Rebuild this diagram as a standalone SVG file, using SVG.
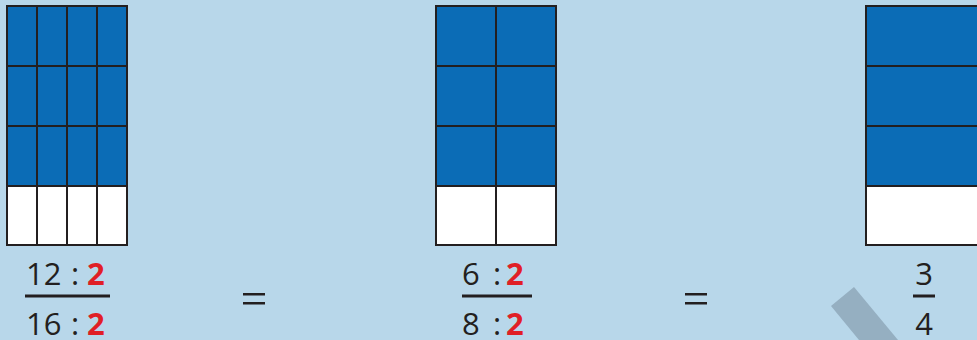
<svg xmlns="http://www.w3.org/2000/svg" width="977" height="340" viewBox="0 0 977 340">
<style>
.bg{fill:#b8d7ea}
.blue{fill:#0b6cb6}
.white{fill:#ffffff}
.grid{fill:none;stroke:#231f20;stroke-width:2}
.num{font-family:"Open Sans","Liberation Sans",sans-serif;font-size:31px;fill:#231f20}
.red{font-family:"Open Sans","Liberation Sans",sans-serif;font-size:31px;font-weight:bold;fill:#e01f26}
.bar{fill:#231f20}
</style>
<rect class="bg" x="0" y="0" width="977" height="340"/>
<polygon id="band" points="831,306 854,287 898,340 859,340" fill="#95afc1"/>
<g id="grid16">
<rect class="blue" x="7" y="6" width="120" height="180"/>
<rect class="white" x="7" y="186" width="120" height="59"/>
<path class="grid" d="M7,6H127V245H7Z M37,6V245 M67,6V245 M97,6V245 M7,66H127 M7,126H127 M7,186H127"/>
</g>
<g id="grid8">
<rect class="blue" x="436" y="6" width="120" height="180"/>
<rect class="white" x="436" y="186" width="120" height="59"/>
<path class="grid" d="M436,6H556V245H436Z M496,6V245 M436,66H556 M436,126H556 M436,186H556"/>
</g>
<g id="grid4">
<rect class="blue" x="866" y="6" width="120" height="180"/>
<rect class="white" x="866" y="186" width="120" height="59"/>
<path class="grid" d="M866,6H986V245H866Z M866,66H986 M866,126H986 M866,186H986"/>
</g>
<g id="frac1">
<text class="num" x="26" y="285">12</text>
<text class="num" x="75" y="285" text-anchor="middle">:</text>
<text class="red" x="87" y="285">2</text>
<rect class="bar" x="25" y="294.5" width="85" height="3"/>
<text class="num" x="26" y="335">16</text>
<text class="num" x="75" y="335" text-anchor="middle">:</text>
<text class="red" x="87" y="335">2</text>
</g>
<g id="eq1">
<rect class="bar" x="243" y="293" width="22" height="2.5"/>
<rect class="bar" x="243" y="302" width="22" height="2.5"/>
</g>
<g id="frac2">
<text class="num" x="462" y="285">6</text>
<text class="num" x="497" y="285" text-anchor="middle">:</text>
<text class="red" x="506" y="285">2</text>
<rect class="bar" x="462" y="294.5" width="70" height="3"/>
<text class="num" x="462" y="335">8</text>
<text class="num" x="497" y="335" text-anchor="middle">:</text>
<text class="red" x="506" y="335">2</text>
</g>
<g id="eq2">
<rect class="bar" x="685" y="293" width="22" height="2.5"/>
<rect class="bar" x="685" y="302" width="22" height="2.5"/>
</g>
<g id="frac3">
<text class="num" x="924" y="285" text-anchor="middle">3</text>
<rect class="bar" x="913" y="294.5" width="22" height="3"/>
<text class="num" x="924" y="335" text-anchor="middle">4</text>
</g>
</svg>
